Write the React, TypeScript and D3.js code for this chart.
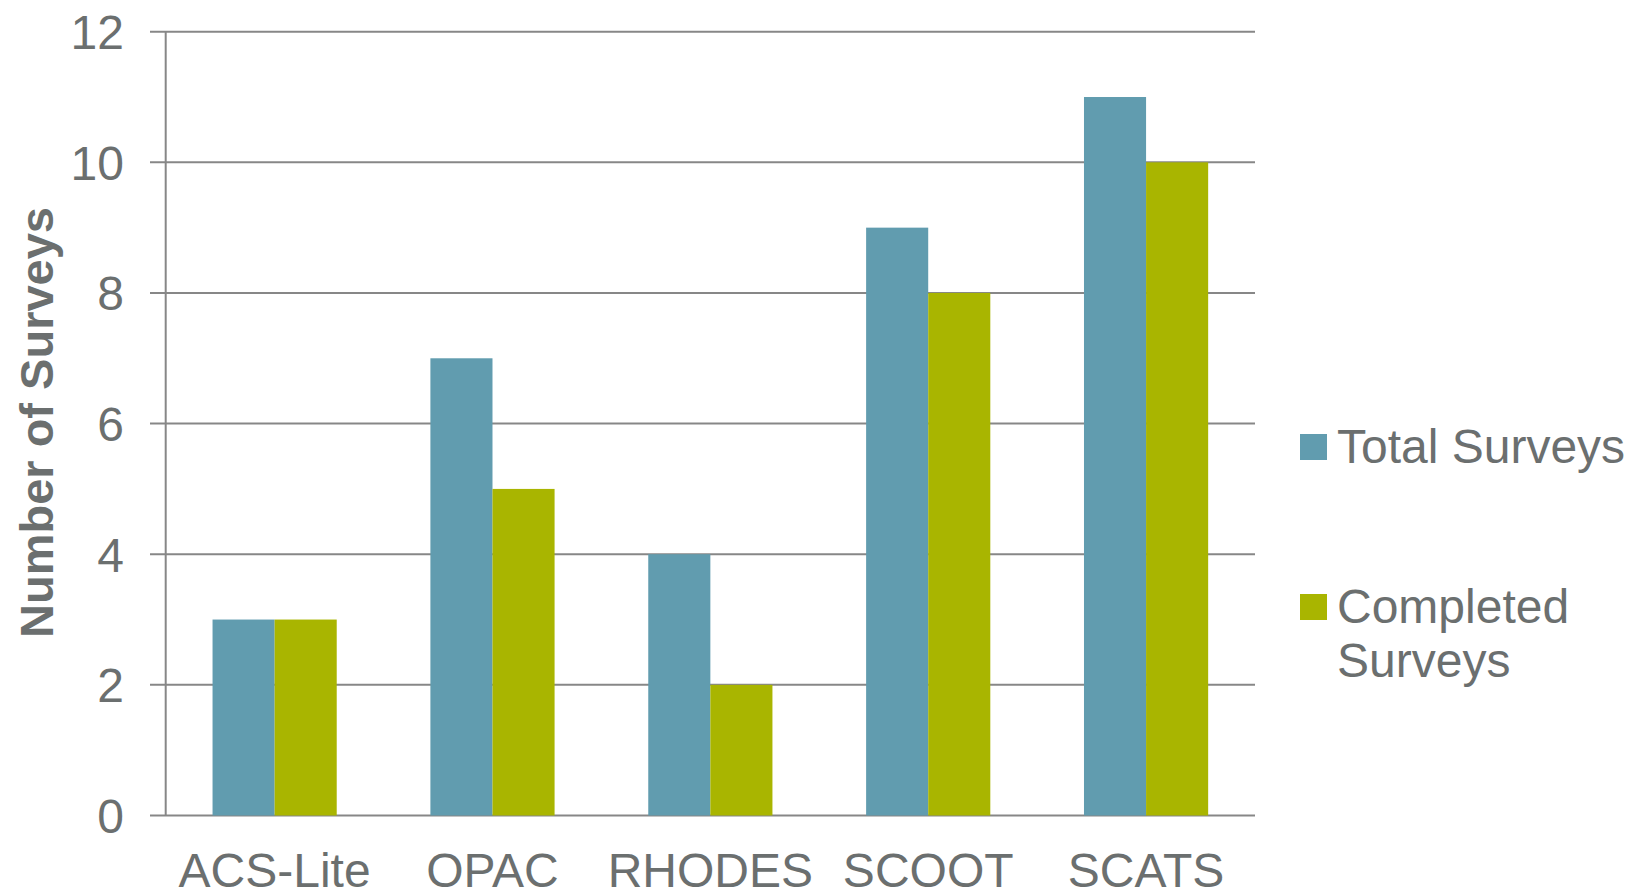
import React from "react";
import * as d3 from "d3";

const categories = ["ACS-Lite", "OPAC", "RHODES", "SCOOT", "SCATS"];
const seriesNames = ["Total Surveys", "Completed Surveys"];
const totalSurveys = [3, 7, 4, 9, 11];
const completedSurveys = [3, 5, 2, 8, 10];
const yTicks = [0, 2, 4, 6, 8, 10, 12];
const colors = ["#619caf", "#a9b500"];
const legendLines = [["Total Surveys"], ["Completed", "Surveys"]];

const W = 1647;
const H = 895;
const FONT = "'Liberation Sans', Arial, sans-serif";
const TEXT = "#6b6f6f";
const GRID = "#878787";

export default function App() {
  const left = 165.7;
  const right = 1255;
  const y = d3.scaleLinear().domain([0, 12]).range([815.5, 31.7]);
  const x = d3
    .scaleBand<string>()
    .domain(categories)
    .range([left, right])
    .paddingInner(0.43)
    .paddingOuter(0.215);
  const xs = d3
    .scaleBand<string>()
    .domain(seriesNames)
    .range([0, x.bandwidth()]);
  const values = [totalSurveys, completedSurveys];

  return (
    <svg
      width={W}
      height={H}
      style={{ position: "absolute", left: 0, top: 0, background: "#fff" }}
      fontFamily={FONT}
    >
      {yTicks.map((t) => (
        <g key={t}>
          <line x1={150} x2={right} y1={y(t)} y2={y(t)} stroke={GRID} strokeWidth={2} />
          <text
            x={124}
            y={y(t)}
            dy="0.36em"
            textAnchor="end"
            fontSize={48}
            fill={TEXT}
          >
            {t}
          </text>
        </g>
      ))}
      <line x1={left} x2={left} y1={y(12)} y2={y(0)} stroke={GRID} strokeWidth={2} />
      {categories.map((c, i) => (
        <g key={c}>
          {seriesNames.map((s, j) => (
            <rect
              key={s}
              x={(x(c) as number) + (xs(s) as number)}
              y={y(values[j][i])}
              width={xs.bandwidth()}
              height={y(0) - y(values[j][i])}
              fill={colors[j]}
            />
          ))}
          <text
            x={(x(c) as number) + x.bandwidth() / 2}
            y={887}
            textAnchor="middle"
            fontSize={48}
            fill={TEXT}
          >
            {c}
          </text>
        </g>
      ))}
      <text
        transform={`translate(53, ${422.5}) rotate(-90)`}
        textAnchor="middle"
        fontSize={47}
        fontWeight="bold"
        fill={TEXT}
      >
        Number of Surveys
      </text>
      {legendLines.map((lines, j) => {
        const baseY = j === 0 ? 463 : 623;
        return (
          <g key={j}>
            <rect x={1300} y={baseY - 29} width={27} height={26} fill={colors[j]} />
            {lines.map((ln, k) => (
              <text key={k} x={1337} y={baseY + k * 53.5} fontSize={48} fill={TEXT}>
                {ln}
              </text>
            ))}
          </g>
        );
      })}
    </svg>
  );
}
